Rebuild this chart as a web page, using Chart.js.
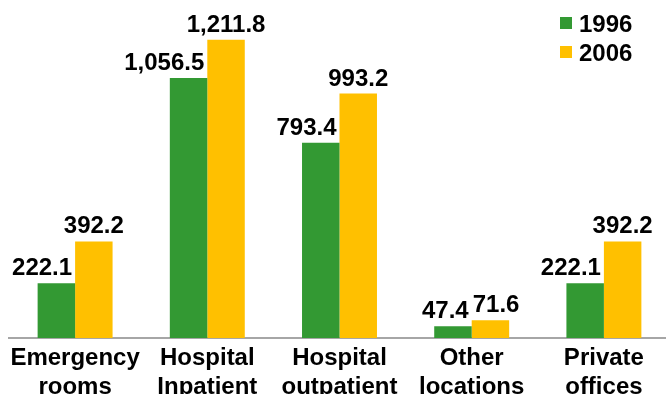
<!DOCTYPE html>
<html>
<head>
<meta charset="utf-8">
<script src="https://cdn.jsdelivr.net/npm/chart.js@4/dist/chart.umd.min.js"></script>
<style>
  html, body { margin: 0; padding: 0; background: #fff; overflow: hidden; }
  #wrap { position: relative; width: 670px; height: 420px; }
</style>
</head>
<body>
<div id="wrap"><canvas id="chart"></canvas></div>
<script>
const categories = [
  ["Emergency", "rooms"],
  ["Hospital", "Inpatient"],
  ["Hospital", "outpatient"],
  ["Other", "locations"],
  ["Private", "offices"]
];
const series1996 = [222.1, 1056.5, 793.4, 47.4, 222.1];
const series2006 = [392.2, 1211.8, 993.2, 71.6, 392.2];
const seriesNames = ["1996", "2006"];

const green = "#339933";
const yellow = "#FFC000";
const FONT = "'Liberation Sans', Arial, sans-serif";

function fmt(v) {
  return v.toLocaleString("en-US", { minimumFractionDigits: 1, maximumFractionDigits: 1 });
}

// value labels: 1996 ends just left of the 2006 bar, 2006 is centred over its bar
// unless that would run into the 1996 label
const valueLabels = {
  id: "valueLabels",
  afterDatasetsDraw(chart) {
    const ctx = chart.ctx;
    ctx.save();
    ctx.font = "bold 24px " + FONT;
    ctx.fillStyle = "#000";
    ctx.textBaseline = "alphabetic";
    ctx.textAlign = "left";
    const m0 = chart.getDatasetMeta(0).data;
    const m1 = chart.getDatasetMeta(1).data;
    m0.forEach((bar, j) => {
      let t0 = fmt(series1996[j]);
      let w0 = ctx.measureText(t0).width;
      let right0 = bar.x + bar.width / 2 - 3;
      let y0 = bar.y - 8;
      ctx.fillText(t0, right0 - w0, y0);

      let b1 = m1[j];
      let t1 = fmt(series2006[j]);
      let w1 = ctx.measureText(t1).width;
      let y1 = b1.y - 8;
      let left1 = b1.x - w1 / 2;
      if (Math.abs(y0 - y1) < 20 && left1 < right0 + 4) left1 = right0 + 4;
      ctx.fillText(t1, left1, y1);
    });
    ctx.restore();
  }
};

const cornerLegend = {
  id: "cornerLegend",
  afterDraw(chart) {
    const ctx = chart.ctx;
    ctx.save();
    ctx.font = "bold 24px " + FONT;
    ctx.textAlign = "left";
    ctx.textBaseline = "alphabetic";
    chart.data.datasets.forEach((ds, i) => {
      let y = 17 + i * 29;
      ctx.fillStyle = ds.backgroundColor;
      ctx.fillRect(560, y, 12, 12);
      ctx.fillStyle = "#000";
      ctx.fillText(ds.label, 579, y + 15);
    });
    ctx.restore();
  }
};

new Chart(document.getElementById("chart"), {
  type: "bar",
  data: {
    labels: categories,
    datasets: [
      { label: seriesNames[0], data: series1996, backgroundColor: green },
      { label: seriesNames[1], data: series2006, backgroundColor: yellow }
    ]
  },
  options: {
    responsive: true,
    maintainAspectRatio: false,
    animation: false,
    layout: { padding: { top: 18, left: 9, right: 0, bottom: 12 } },
    datasets: { bar: { categoryPercentage: 0.567, barPercentage: 1 } },
    plugins: { legend: { display: false }, tooltip: { enabled: false } },
    scales: {
      x: {
        grid: { display: false, drawTicks: false },
        border: { display: true, color: "#A6A6A6", width: 2 },
        ticks: {
          color: "#000",
          padding: 6,
          maxRotation: 0,
          autoSkip: false,
          font: { family: FONT, size: 24, weight: "bold", lineHeight: 1.21 }
        }
      },
      y: { display: false, min: 0, max: 1300 }
    }
  },
  plugins: [valueLabels, cornerLegend]
});
</script>
</body>
</html>
